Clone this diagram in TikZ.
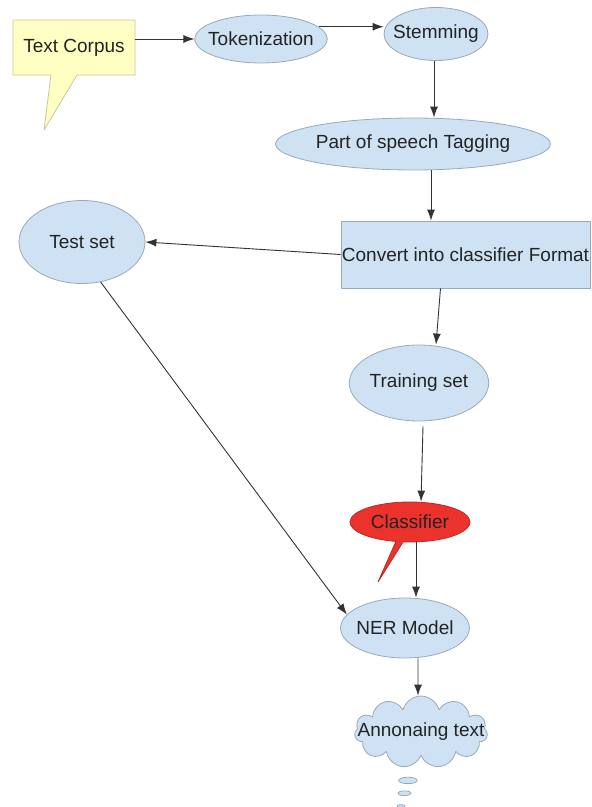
\documentclass[tikz,border=0pt]{standalone}
\usepackage{fontspec}
\setmainfont{Liberation Sans}
\usetikzlibrary{arrows.meta,shapes.geometric,shapes.callouts,shapes.symbols}
\definecolor{bubblefill}{RGB}{207,226,243}
\definecolor{bubbleline}{RGB}{150,170,190}
\definecolor{notefill}{RGB}{255,255,196}
\definecolor{noteline}{RGB}{200,200,150}
\definecolor{alertfill}{RGB}{236,50,45}
\definecolor{alertline}{RGB}{190,40,35}
\definecolor{labeltext}{RGB}{35,35,35}
\begin{document}
\begin{tikzpicture}[>={Latex[length=11bp,width=8bp]},line join=bevel,
  every node/.style={font=\fontsize{19bp}{22bp}\selectfont,text=labeltext,inner sep=0pt},
  stage/.style={ellipse,draw=bubbleline,fill=bubblefill,line width=0.8bp},
  flow/.style={->,draw=black!80,line width=0.9bp}]
  \useasboundingbox (0bp,0bp) rectangle (592bp,-807bp);
%%
  % Node: Corpus
  \node [rectangle callout,draw=noteline,fill=notefill,line width=0.8bp,
    minimum width=122bp,minimum height=55bp,callout pointer width=26bp,
    callout absolute pointer={(44bp,-130bp)}] (corpus) at (74bp,-47.5bp) {Text Corpus};
  % Node: Tokenization
  \node [stage,inner xsep=-6bp,minimum height=48bp] (tok) at (261bp,-39bp) {Tokenization};
  % Node: Stemming
  \node [stage,inner xsep=-6bp,minimum height=53bp] (stem) at (436bp,-34bp) {Stemming};
  % Node: Tagging
  \node [stage,minimum width=270bp,minimum height=52bp] (pos) at (413bp,-144bp) {Part of speech Tagging};
  % Node: Convert
  \node [rectangle,draw=bubbleline,fill=bubblefill,line width=0.8bp,
    minimum width=249bp,minimum height=67bp] (conv) at (465.5bp,-254.5bp) {Convert into classifier Format};
  % Node: Testset
  \node [stage,minimum width=126bp,minimum height=83bp] (test) at (82bp,-242bp) {Test set};
  % Node: Trainingset
  \node [stage,minimum width=134bp,minimum height=76bp] (train) at (419bp,-383bp) {Training set};
  % Node: Classifier
  \node [ellipse callout,draw=alertline,fill=alertfill,line width=0.8bp,
    minimum width=120bp,minimum height=40bp,callout pointer arc=7,
    callout absolute pointer={(378bp,-582bp)}] (clf) at (410bp,-522bp) {Classifier};
  % Node: NER
  \node [stage,inner xsep=-3bp,minimum height=60bp] (ner) at (405bp,-628bp) {NER Model};
  % Node: Annotating
  \node [cloud callout,draw=bubbleline,fill=bubblefill,line width=0.8bp,
    cloud puffs=11,cloud ignores aspect,inner xsep=-18bp,inner ysep=-4bp,
    minimum width=133bp,minimum height=72bp,
    callout pointer segments=3,
    callout pointer start size=.18 of callout,callout pointer end size=.06 of callout,
    callout absolute pointer={(401bp,-806bp)}] (ann) at (421bp,-732bp) {Annonaing text};
%%
  % Edge: Corpus -> Tokenization
  \draw [flow] (corpus.east |- tok.west) -- (tok.west);
  % Edge: Tokenization -> Stemming
  \draw [flow] (tok.12) -- (stem.west |- tok.12);
  % Edge: Stemming -> Tagging
  \draw [flow] (stem.south -| 434bp,0) -- (pos.north -| 434bp,0);
  % Edge: Tagging -> Convert
  \draw [flow] (pos.south -| 431bp,0) -- (conv.north -| 431bp,0);
  % Edge: Convert -> Testset
  \draw [flow] (conv.west) -- (test.east);
  % Edge: Convert -> Trainingset
  \draw [flow] ([xshift=-25bp]conv.south) -- ([xshift=17bp]train.north);
  % Edge: Trainingset -> Classifier
  \draw [flow] ([xshift=4bp,yshift=-5bp]train.south) -- ([xshift=11bp]clf.north);
  % Edge: Classifier -> NER
  \draw [flow] ([xshift=6bp]clf.south) -- ([xshift=11bp]ner.north);
  % Edge: Testset -> NER
  \draw [flow] (test.-65) -- (ner.167);
  % Edge: NER -> Annotating
  \draw [flow] ([xshift=13bp]ner.south) -- ([xshift=-3bp]ann.north);
%
\end{tikzpicture}
\end{document}
